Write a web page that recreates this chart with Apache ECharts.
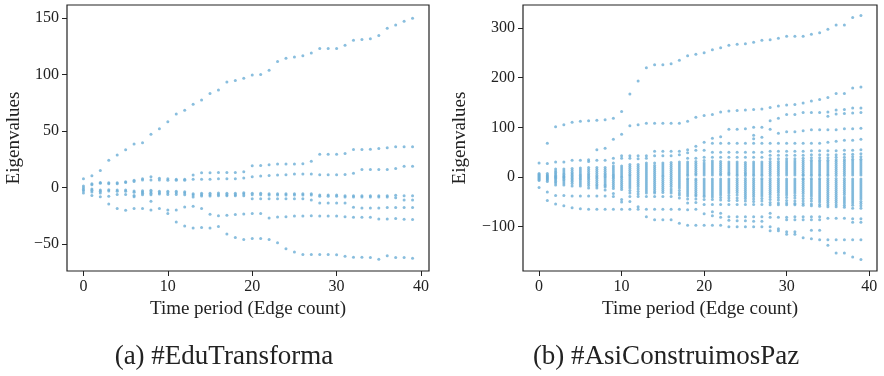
<!DOCTYPE html>
<html>
<head>
<meta charset="utf-8">
<script src="https://cdn.jsdelivr.net/npm/echarts@6/dist/echarts.min.js"></script>
<style>
  html, body { margin: 0; padding: 0; background: #fff; }
  #chart { width: 884px; height: 376px; }
</style>
</head>
<body>
<div id="chart"></div>
<script>
// (a) #EduTransforma: eigenvalues at each time period (index = time period)
const eduEigen = [
  [7.9, 1.5, 0, -1.5, -2.6, -4.7],
  [10.6, 3.6, 2.7, -1.1, -2.3, -3.8, -6.8],
  [15.3, 4.7, 3.9, -2.1, -3.2, -4.7, -7.9],
  [24.2, 4.4, 3.6, -1.8, -2.9, -7.6, -14.4],
  [28.9, 4.4, 3.6, -2.1, -3.2, -5.9, -18.5],
  [33.5, 5.3, 4.6, -2.1, -3.2, -5.9, -19.9],
  [38.8, 6.5, 5.6, -2.9, -4.1, -6.8, -7.9, -18.5],
  [39.7, 7.9, 6.8, -2.6, -3.8, -5, -6.2, -18.5],
  [47.4, 9.7, 6.8, -2.3, -3.5, -5, -6.2, -12, -19.7],
  [52.1, 8.3, 6.8, -3.2, -4.4, -5.6, -18.5],
  [58.3, 7.9, 6.5, -3.2, -4.4, -5.9, -19.7, -22.9],
  [65.3, 7.4, 6.6, -3.2, -4.4, -5.9, -19.7, -30.3],
  [68.6, 7.4, 6.6, -3.5, -4.7, -6.2, -17.1, -33.8],
  [73.9, 11.2, 7.4, -5.3, -6.5, -8.2, -16.5, -35.6],
  [77.7, 13.2, 7.6, -5, -6.2, -7.4, -18.5, -35.3],
  [83.3, 13.2, 7.6, -5, -6.2, -7.4, -23.5, -35.6],
  [86.5, 13.5, 7.9, -4.7, -5.9, -7.1, -24.7, -34.4],
  [93.6, 13.5, 7.9, -5, -6.2, -7.1, -24.4, -40.9],
  [94.8, 13.5, 7.9, -5, -6.2, -7.1, -23.8, -44.1],
  [96.8, 14.1, 8.5, -4.4, -5.6, -7.1, -23.2, -45.9],
  [99.7, 19.4, 9.7, -5, -6.2, -9.7, -22.9, -45],
  [100.3, 19.7, 10.3, -5, -6.2, -9.7, -22.9, -45],
  [103.9, 20.3, 10.9, -5.3, -6.4, -9.7, -26.8, -45.9],
  [111.8, 20.9, 11.2, -5.3, -6.4, -9.7, -25.9, -48.8],
  [114.5, 20.9, 11.5, -5.3, -6.4, -9.7, -25.6, -54.1],
  [115.6, 20.9, 12.1, -5.3, -6.4, -9.7, -25, -56.8],
  [116.8, 21.2, 12.1, -5.3, -6.4, -9.7, -25, -59.1],
  [119.2, 23.5, 12.1, -5.3, -6.4, -10.9, -24.7, -59.1],
  [123.3, 29.7, 11.5, -6.4, -7.6, -13.5, -25, -59.1],
  [123.3, 29.7, 11.5, -6.4, -7.6, -13.5, -25, -59.1],
  [123.3, 29.7, 11.5, -6.4, -7.6, -13.5, -25, -59.4],
  [126, 30.3, 11.8, -7, -8.2, -13.5, -25.6, -60.6],
  [130.6, 33.8, 12.7, -7, -8.2, -17.3, -26.2, -61.5],
  [131.2, 33.8, 16.2, -7, -8.2, -17.9, -26.2, -61.5],
  [131.8, 34.1, 16.2, -7, -8.2, -17.9, -26.2, -61.8],
  [134.8, 34.7, 16.2, -7, -8.2, -17.9, -27.6, -63.2],
  [141.2, 35.3, 16.2, -7, -8.2, -17.6, -27.6, -60.3],
  [143.9, 36.2, 17.1, -6.7, -8.8, -17.6, -27.3, -61.8],
  [147.4, 36.2, 19.1, -7, -10.9, -17.6, -27.9, -61.8],
  [150, 36.2, 19.1, -7, -10.9, -17.6, -28.2, -62.4]
];

// (b) #AsiConstruimosPaz: sparse outlying eigenvalues per time period
const pazSparse = [
  [28, -21],
  [68, 27, -30, -47],
  [101, 30, -37, -54],
  [105, 30, -37, -58],
  [110, 34, -38, -62],
  [112, 34, -38, -64],
  [113, 35, 31, -38, -65],
  [114, 55, 34, -38, -65],
  [115, 58, 34, -26, -38, -65],
  [118, 76, 38, 28, -33, -39, -65],
  [132, 86, 43, 38, -45, -50, -65],
  [167, 103, 43, 38, -39, -49, -65],
  [193, 105, 43, 37, -39, -60, -65],
  [220, 108, 43, 38, -39, -65, -80],
  [226, 108, 52, 43, -39, -65, -86],
  [226, 108, 52, 43, -39, -65, -86],
  [228, 108, 52, 43, -39, -65, -86],
  [235, 108, 52, 45, -42, -65, -93],
  [244, 112, 55, 49, 38, -44, -52, -66, -97],
  [247, 120, 62, 54, 38, -44, -51, -65, -97],
  [250, 124, 70, 54, 40, -45, -55, -74, -97],
  [256, 126, 78, 68, 50, 40, -45, -55, -70, -78, -97],
  [260, 131, 81, 68, 50, 40, -46, -55, -73, -81, -97],
  [265, 133, 96, 68, 50, 40, -47, -55, -80, -87, -100],
  [267, 134, 96, 68, 50, 40, -47, -55, -80, -88, -100],
  [268, 135, 97, 68, 50, 40, -48, -55, -80, -88, -100],
  [271, 136, 100, 84, 77, 68, 50, 40, -49, -55, -80, -89, -100],
  [275, 137, 100, 80, 68, 50, 40, -48, -55, -80, -89, -100],
  [276, 140, 113, 96, 68, 52, 44, 37, -51, -56, -73, -81, -100, -108],
  [279, 143, 118, 88, 68, 52, 44, 37, -52, -56, -81, -104, -108],
  [283, 145, 126, 91, 68, 52, 44, 37, -52, -56, -81, -86, -110, -115],
  [283, 146, 126, 91, 68, 52, 44, 37, -53, -56, -80, -86, -110, -115],
  [283, 149, 130, 93, 68, 52, 44, 38, -53, -57, -80, -86, -122],
  [287, 153, 130, 95, 68, 53, 45, 39, -54, -58, -80, -86, -107, -124],
  [290, 156, 130, 95, 68, 53, 45, 39, -55, -59, -80, -86, -107, -126],
  [297, 160, 131, 122, 95, 70, 53, 45, 39, -56, -60, -83, -126, -137],
  [306, 168, 135, 127, 95, 72, 53, 45, 40, -56, -60, -83, -126, -153],
  [306, 168, 136, 128, 97, 74, 54, 46, 40, -57, -61, -83, -126, -153],
  [321, 179, 139, 129, 97, 74, 54, 46, 41, -57, -63, -84, -91, -126, -161],
  [325, 181, 139, 130, 98, 76, 55, 47, 41, -58, -63, -84, -91, -126, -166]
];

// (b) dense bulk of eigenvalues near zero per time period
const pazDense = [
  [7, 5, 3, 1, -1, -3, -5, -7],
  [7, 4, 2, 0, -2, -4, -6, -9],
  [16, 12, 9, 6, 3, 1, -1, -3, -6, -9, -12, -16],
  [16, 12, 8, 5, 2, 0, -2, -5, -8, -12, -16],
  [17, 13, 9, 6, 3, 0, -3, -6, -9, -13, -18],
  [18, 14, 10, 6, 3, 0, -3, -6, -10, -14, -18],
  [19, 15, 11, 7, 4, 1, -2, -5, -9, -13, -17, -22],
  [19, 15, 11, 7, 3, 0, -3, -7, -11, -15, -18, -22],
  [19, 15, 11, 7, 4, 1, -2, -6, -10, -14, -17, -20],
  [22, 18, 14, 10, 6, 3, 0, -3, -7, -11, -15, -19, -23],
  [22, 18, 14, 10, 6, 2, -1, -5, -9, -13, -17, -21, -25],
  [25, 21, 17, 13, 9, 5, 2, -2, -6, -10, -14, -18, -22, -27, -32],
  [25, 21, 17, 13, 9, 5, 1, -3, -7, -11, -15, -19, -24, -29, -34],
  [28, 24, 20, 16, 12, 8, 4, 0, -4, -8, -12, -16, -20, -24, -28, -32],
  [28, 23, 19, 15, 11, 7, 3, -1, -5, -9, -13, -17, -21, -25, -29, -32],
  [28, 24, 20, 16, 12, 8, 4, 1, -3, -7, -11, -15, -19, -23, -27, -31],
  [29, 25, 21, 17, 13, 9, 5, 1, -3, -7, -11, -15, -19, -24, -28, -32],
  [30, 26, 22, 18, 14, 10, 6, 2, -2, -6, -10, -14, -18, -22, -27, -32, -36],
  [30, 26, 22, 18, 14, 10, 6, 3, -3, -6, -10, -14, -18, -22, -26, -30, -34, -38],
  [31, 27, 23, 19, 15, 11, 7, 4, -4, -7, -11, -15, -19, -23, -27, -31, -35, -38],
  [33, 28, 24, 20, 16, 12, 8, 4, -4, -8, -12, -16, -20, -24, -28, -32, -36, -39],
  [32, 28, 24, 20, 16, 12, 8, 4, -4, -8, -12, -16, -20, -24, -28, -32, -36, -40],
  [31, 27, 23, 19, 15, 11, 7, 4, -4, -8, -12, -16, -20, -24, -28, -32, -36, -41],
  [30, 26, 22, 18, 14, 10, 7, 4, -4, -8, -12, -16, -20, -24, -28, -32, -37, -42],
  [30, 26, 22, 18, 14, 10, 6, 3, -3, -7, -11, -15, -19, -23, -27, -31, -36, -42],
  [29, 25, 21, 17, 13, 9, 6, 3, -3, -7, -11, -15, -19, -23, -27, -31, -35, -39, -43],
  [30, 26, 22, 18, 14, 10, 6, 3, -3, -7, -11, -15, -19, -23, -27, -31, -35, -39, -44],
  [30, 26, 22, 18, 14, 10, 6, 3, -3, -6, -10, -14, -18, -22, -26, -30, -34, -38, -43],
  [31, 27, 23, 19, 15, 11, 7, 3, -3, -7, -11, -15, -19, -23, -27, -31, -35, -40, -45],
  [31, 27, 23, 19, 15, 11, 7, 3, -3, -7, -11, -15, -19, -23, -27, -31, -36, -41, -46],
  [32, 28, 24, 20, 16, 12, 8, 4, -4, -8, -12, -16, -20, -24, -28, -32, -36, -41, -47],
  [32, 28, 24, 20, 16, 12, 8, 4, -4, -8, -12, -16, -20, -24, -28, -32, -37, -42, -48],
  [33, 29, 25, 21, 17, 13, 9, 5, 3, -3, -5, -9, -13, -17, -21, -25, -29, -33, -38, -43, -48],
  [34, 30, 26, 22, 18, 14, 10, 6, 3, -3, -6, -10, -14, -18, -22, -26, -30, -34, -38, -43, -48],
  [34, 30, 26, 22, 18, 14, 10, 6, 3, -3, -6, -10, -14, -18, -22, -26, -30, -34, -38, -42, -46, -50],
  [34, 30, 26, 22, 18, 14, 10, 6, 3, -3, -7, -11, -15, -19, -23, -27, -31, -35, -39, -43, -47, -51],
  [35, 31, 27, 23, 19, 15, 11, 7, 3, -3, -7, -11, -15, -19, -23, -27, -31, -35, -39, -43, -47, -51],
  [35, 31, 27, 23, 19, 15, 11, 7, 3, -3, -7, -11, -15, -19, -23, -27, -31, -35, -40, -44, -48, -52],
  [36, 32, 28, 24, 20, 16, 12, 8, 4, -4, -8, -12, -16, -20, -24, -28, -32, -36, -40, -44, -48, -52],
  [36, 32, 28, 24, 20, 16, 12, 8, 4, -4, -8, -12, -16, -20, -24, -28, -32, -36, -40, -44, -49, -53]
];

const xTicks = [0, 10, 20, 30, 40];
const eduYTicks = [-50, 0, 50, 100, 150];
const pazYTicks = [-100, 0, 100, 200, 300];
const captions = ['(a) #EduTransforma', '(b) #AsiConstruimosPaz'];

const toPoints = (cols) => cols.flatMap((vals, t) => vals.map(v => [t, v]));

const FONT = '"Liberation Serif", "DejaVu Serif", serif';
const INK = '#222';
const DOT = '#6baed6';

const minusFmt = v => (v < 0 ? '\u2212' + Math.abs(v) : String(v));

function makeX(gridIndex) {
  return {
    type: 'value',
    gridIndex,
    min: -1.95,
    max: 40.95,
    name: 'Time period (Edge count)',
    nameLocation: 'middle',
    nameGap: 19,
    nameTextStyle: { fontFamily: FONT, fontSize: 19, color: INK },
    splitLine: { show: false },
    axisLine: { show: false, onZero: false },
    axisTick: { show: true, length: 5, lineStyle: { color: INK }, customValues: xTicks },
    axisLabel: { fontFamily: FONT, fontSize: 16, color: INK, margin: 8, customValues: xTicks }
  };
}

function makeY(gridIndex, min, max, ticks, gap) {
  return {
    type: 'value',
    gridIndex,
    min,
    max,
    name: 'Eigenvalues',
    nameLocation: 'middle',
    nameGap: gap,
    nameTextStyle: { fontFamily: FONT, fontSize: 19, color: INK },
    splitLine: { show: false },
    axisLine: { show: false, onZero: false },
    axisTick: { show: true, length: 5, lineStyle: { color: INK }, customValues: ticks },
    axisLabel: { fontFamily: FONT, fontSize: 16, color: INK, margin: 8, customValues: ticks, formatter: minusFmt }
  };
}

const chart = echarts.init(document.getElementById('chart'), null, { renderer: 'canvas' });

const option = {
  animation: false,
  backgroundColor: '#fff',
  grid: [
    { left: 67, top: 5, width: 362, height: 266, show: true, borderColor: INK, borderWidth: 1.2 },
    { left: 523, top: 5, width: 354, height: 266, show: true, borderColor: INK, borderWidth: 1.2 }
  ],
  xAxis: [makeX(0), makeX(1)],
  yAxis: [
    makeY(0, -73.7, 161.7, eduYTicks, 43),
    makeY(1, -189, 346, pazYTicks, 53)
  ],
  series: [
    {
      type: 'scatter',
      xAxisIndex: 0,
      yAxisIndex: 0,
      symbol: 'circle',
      symbolSize: 3,
      itemStyle: { color: DOT },
      data: toPoints(eduEigen)
    },
    {
      type: 'scatter',
      xAxisIndex: 1,
      yAxisIndex: 1,
      symbol: 'circle',
      symbolSize: 3,
      itemStyle: { color: DOT },
      data: toPoints(pazSparse).concat(toPoints(pazDense))
    }
  ],
  graphic: [
    {
      type: 'text', x: 224, y: 357,
      style: { text: captions[0], fontFamily: FONT, fontSize: 27, fill: INK, align: 'center', verticalAlign: 'middle' }
    },
    {
      type: 'text', x: 666, y: 357,
      style: { text: captions[1], fontFamily: FONT, fontSize: 27, fill: INK, align: 'center', verticalAlign: 'middle' }
    }
  ]
};

chart.setOption(option);
window.addEventListener('resize', () => chart.resize());
</script>
</body>
</html>
